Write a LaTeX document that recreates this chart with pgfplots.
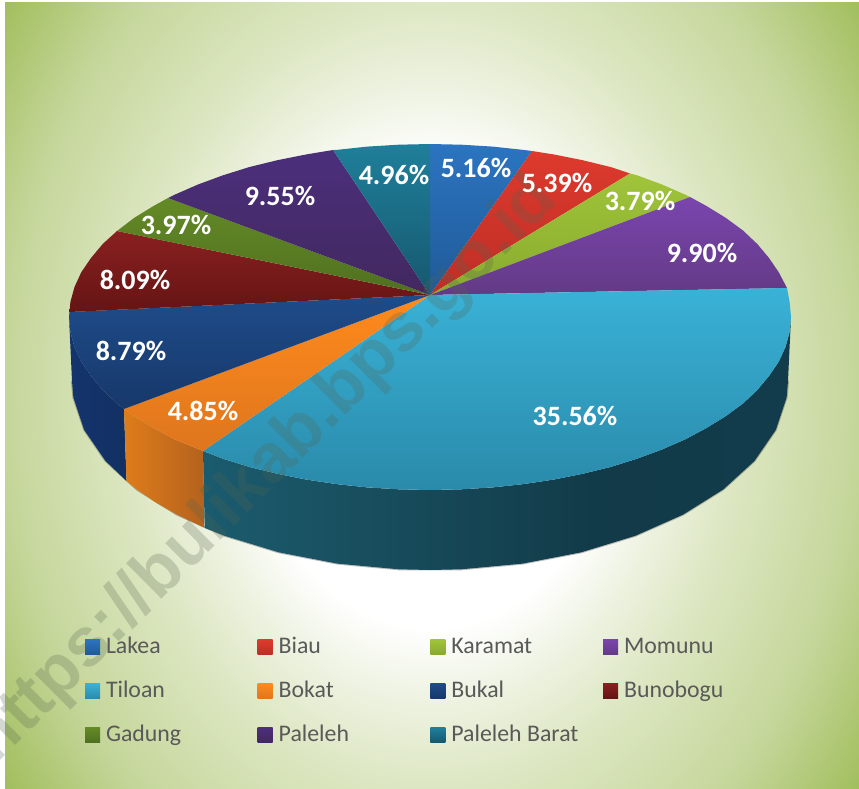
\documentclass[border=0pt]{standalone}
\usepackage{pgfplots}
\pgfplotsset{compat=1.18}
\usepackage{fontspec}
\setmainfont{Carlito}
\newfontfamily\wmfont{Liberation Sans}
\definecolor{bgA}{HTML}{F0F4E5}
\definecolor{bgB}{HTML}{DDE7C3}
\definecolor{bgC}{HTML}{C5D69A}
\definecolor{bgD}{HTML}{A2BF5F}
\definecolor{wA}{HTML}{1F7F98}
\definecolor{wB}{HTML}{1C6478}
\definecolor{wC}{HTML}{184E5E}
\definecolor{wD}{HTML}{123A48}
\definecolor{wE}{HTML}{123F52}
\definecolor{wm}{HTML}{556450}
\pgfdeclareradialshading{bgshade}{\pgfpoint{0bp}{0bp}}{color(0bp)=(white); color(10.7bp)=(white); color(13.6bp)=(bgA); color(17.9bp)=(bgB); color(25bp)=(bgC); color(30.7bp)=(bgD); color(50bp)=(bgD)}
\pgfdeclarehorizontalshading{wallshade}{100bp}{color(0bp)=(wA); color(6bp)=(wA); color(16bp)=(wB); color(39bp)=(wC); color(59bp)=(wD); color(100bp)=(wE)}
\newcommand{\lab}[1]{\makebox[151.7pt][l]{#1}}
\newcommand{\pct}[3]{\node[font=\fontsize{28}{30}\selectfont\bfseries,text=white,inner sep=0pt] at (axis cs:#1,#2) {#3};}
\begin{document}
\begin{tikzpicture}
\begin{axis}[
  at={(0pt,0pt)},anchor=south west,
  width=859pt,height=789pt,scale only axis,
  xmin=0,xmax=859,ymin=0,ymax=789,y dir=reverse,
  hide axis,
  legend columns=4,
  legend cell align=left,
  legend image code/.code={\path[#1] (0pt,-7pt) rectangle (15pt,8pt);},
  legend style={at={(axis cs:85,636)},anchor=north west,draw=none,fill=none,inner sep=0pt,outer sep=0pt,
    font=\fontsize{23.8}{26}\selectfont,text=black!65,
    nodes={inner sep=0pt,outer sep=0pt,text height=17pt,text depth=6pt},
    row sep=21pt,
    /tikz/every odd column/.append style={column sep=6pt}},
]
% background
\addplot[forget plot,draw=none,shading=bgshade] coordinates {(5,-150) (859,-150) (859,939) (5,939) (5,-150)};
\addplot[forget plot,draw=none,fill=white] coordinates {(0,0) (859,0) (859,2) (0,2) (0,0)};

% soft edge under the pie
\addplot[forget plot,draw=black,opacity=0.25,line width=2pt] coordinates {(72,381) (73.4,397.5) (84.2,429.9) (105.5,460.9) (136.7,489.4) (176.9,514.6) (224.7,535.8) (278.7,552.3) (337.3,563.6) (398.8,569.3) (461.2,569.3) (522.7,563.6) (581.3,552.3) (635.3,535.8) (683.1,514.6) (723.3,489.4) (754.5,460.9) (775.8,429.9) (786.6,397.5) (788,381)};

% side walls
\addplot[forget plot,draw=none,left color={rgb,255:red,20;green,52;blue,110},right color={rgb,255:red,18;green,48;blue,98}] coordinates {(69,317) (70.4,332.1) (74.5,347) (81.3,361.8) (91,376) (102.8,390.1) (117,403.5) (124,409) (126.5,481) (105.5,460.9) (84.2,429.9) (73.4,397.5) (72,381) (69,317)};
\addplot[forget plot,draw=none,left color={rgb,255:red,222;green,124;blue,26},right color={rgb,255:red,180;green,98;blue,30}] coordinates {(124,409) (134.3,416.2) (153.5,428) (174.7,439.3) (203,451) (204.7,527.9) (176.9,514.6) (155.8,502.5) (136.7,489.4) (126.5,481) (124,409)};
\addplot[forget plot,draw=none,shading=wallshade] coordinates {(203,451) (223,458.7) (249.5,467) (277.4,473.8) (306.5,479.6) (336.6,484.1) (367.3,487.4) (398.5,489.3) (430,490) (461.5,489.3) (492.7,487.4) (523.4,484.1) (553.5,479.6) (582.6,473.8) (610.5,467) (637,458.7) (662,449.5) (685.3,439.3) (706.5,428) (725.7,416.2) (743,403.5) (757.2,390.1) (769,376) (778.7,361.8) (785.5,347) (789.6,332.1) (791,317) (788,381) (786.6,397.5) (775.8,429.9) (754.5,460.9) (723.3,489.4) (683.1,514.6) (635.3,535.8) (581.3,552.3) (522.7,563.6) (461.2,569.3) (430,570) (398.8,569.3) (337.3,563.6) (278.7,552.3) (224.7,535.8) (204.7,527.9) (203,451)};

% top surface: one wedge per district
\addplot[draw=none,top color={rgb,255:red,44;green,116;blue,192},bottom color={rgb,255:red,31;green,90;blue,152}] coordinates {(430,295) (430,144) (461.5,144.7) (492.7,146.6) (523.4,149.9) (532,151) (430,295)};
\addlegendentry{\lab{Lakea}}
\addplot[draw=none,top color={rgb,255:red,221;green,58;blue,45},bottom color={rgb,255:red,190;green,46;blue,38}] coordinates {(430,295) (532,151) (553.5,154.4) (582.6,160.2) (610.5,167) (630,173.5) (430,295)};
\addlegendentry{\lab{Biau}}
\addplot[draw=none,top color={rgb,255:red,160;green,196;blue,58},bottom color={rgb,255:red,136;green,170;blue,46}] coordinates {(430,295) (630,173.5) (637,175.3) (662,184.5) (685.3,194.7) (690,197) (430,295)};
\addlegendentry{\lab{Karamat}}
\addplot[draw=none,top color={rgb,255:red,122;green,69;blue,174},bottom color={rgb,255:red,99;green,58;blue,133}] coordinates {(430,295) (690,197) (706.5,206) (725.7,217.8) (743,230.5) (757.2,243.9) (769,258) (778.7,272.2) (787,288) (430,295)};
\addlegendentry{\lab{Momunu}}
\addplot[draw=none,top color={rgb,255:red,57;green,178;blue,215},bottom color={rgb,255:red,42;green,138;blue,170}] coordinates {(430,295) (787,288) (789.6,301.9) (791,317) (789.6,332.1) (785.5,347) (778.7,361.8) (769,376) (757.2,390.1) (743,403.5) (725.7,416.2) (706.5,428) (685.3,439.3) (662,449.5) (637,458.7) (610.5,467) (582.6,473.8) (553.5,479.6) (523.4,484.1) (492.7,487.4) (461.5,489.3) (430,490) (398.5,489.3) (367.3,487.4) (336.6,484.1) (306.5,479.6) (277.4,473.8) (249.5,467) (223,458.7) (203,451) (430,295)};
\addlegendentry{\lab{Tiloan}}
\addplot[draw=none,top color={rgb,255:red,255;green,138;blue,28},bottom color={rgb,255:red,222;green,118;blue,30}] coordinates {(430,295) (203,451) (174.7,439.3) (153.5,428) (134.3,416.2) (124,409) (430,295)};
\addlegendentry{\lab{Bokat}}
\addplot[draw=none,top color={rgb,255:red,30;green,76;blue,138},bottom color={rgb,255:red,23;green,56;blue,106}] coordinates {(430,295) (124,409) (117,403.5) (102.8,390.1) (91,376) (81.3,361.8) (74.5,347) (70.4,332.1) (69,317) (69.5,312) (430,295)};
\addlegendentry{\lab{Bukal}}
\addplot[draw=none,top color={rgb,255:red,138;green,32;blue,32},bottom color={rgb,255:red,101;green,20;blue,20}] coordinates {(430,295) (69.5,312) (70.4,301.9) (74.5,287) (81.3,272.2) (91,258) (102.8,243.9) (117,231) (430,295)};
\addlegendentry{\lab{Bunobogu}}
\addplot[draw=none,top color={rgb,255:red,100;green,138;blue,38},bottom color={rgb,255:red,79;green,112;blue,32}] coordinates {(430,295) (117,231) (134.3,217.8) (153.5,206) (168,198) (430,295)};
\addlegendentry{\lab{Gadung}}
\addplot[draw=none,top color={rgb,255:red,76;green,47;blue,124},bottom color={rgb,255:red,66;green,40;blue,95}] coordinates {(430,295) (168,198) (174.7,194.7) (198,184.5) (223,175.3) (249.5,167) (277.4,160.2) (306.5,154.4) (333,150) (430,295)};
\addlegendentry{\lab{Paleleh}}
\addplot[draw=none,top color={rgb,255:red,31;green,127;blue,154},bottom color={rgb,255:red,22;green,88;blue,110}] coordinates {(430,295) (333,150) (336.6,149.9) (367.3,146.6) (398.5,144.7) (430,144) (430,295)};
\addlegendentry{\lab{Paleleh Barat}}

% watermark
\node[rotate=45,text=wm,opacity=0.25,font=\wmfont\fontsize{69}{72}\selectfont\bfseries,inner sep=0pt] at (axis cs:265,471) {https://bulikab.bps.go.id};

% value labels
\pct{476}{168}{5.16\%}
\pct{557}{183}{5.39\%}
\pct{640}{201}{3.79\%}
\pct{702}{253}{9.90\%}
\pct{575}{416}{35.56\%}
\pct{203}{411}{4.85\%}
\pct{131}{351}{8.79\%}
\pct{135}{280}{8.09\%}
\pct{176}{225}{3.97\%}
\pct{280}{196}{9.55\%}
\pct{394}{175}{4.96\%}
\end{axis}
\pgfresetboundingbox
\path[use as bounding box] (0pt,0pt) rectangle (859pt,789pt);
\end{tikzpicture}
\end{document}
